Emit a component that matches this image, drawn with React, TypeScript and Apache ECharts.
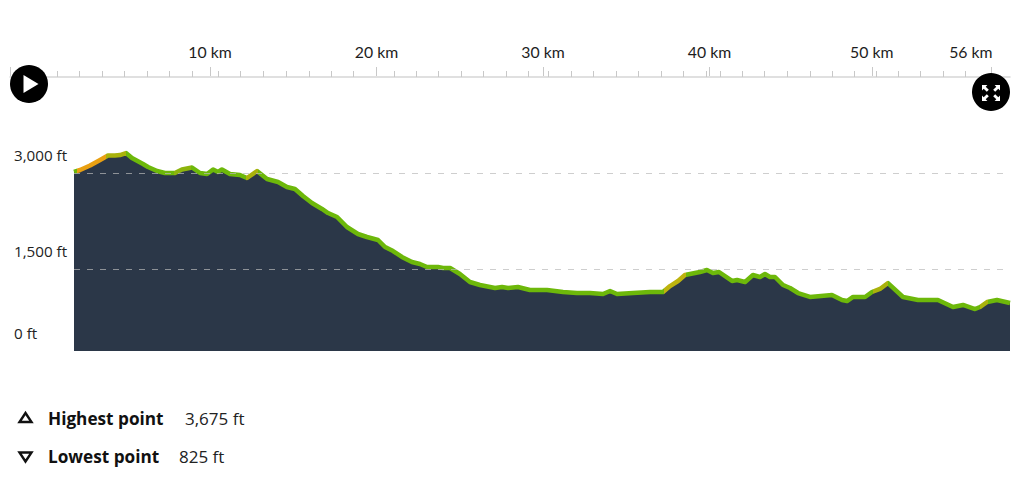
import React, { useEffect, useRef } from "react";
import * as echarts from "echarts";

const distanceKm = [0, 0.36, 0.96, 1.56, 2.03, 2.45, 2.75, 3.11, 3.47, 4.13, 4.43, 4.97, 5.44, 6.04, 6.46, 7.06, 7.54, 7.96, 8.32, 8.62, 8.85, 9.33, 9.93, 10.35, 10.95, 11.55, 12.21, 12.74, 13.22, 13.7, 14.24, 14.84, 15.2, 15.74, 16.33, 16.99, 17.53, 18.19, 18.61, 19.09, 19.62, 20.22, 20.7, 21.12, 21.78, 22.08, 22.5, 23.09, 23.69, 24.29, 25.19, 25.61, 25.97, 26.56, 27.28, 28.3, 29.26, 30.09, 30.87, 31.65, 32.07, 32.49, 33.44, 34.46, 35.24, 35.66, 36.14, 36.55, 37.45, 37.87, 38.23, 38.59, 39.37, 39.67, 40.15, 40.62, 41.04, 41.34, 41.64, 41.94, 42.42, 42.84, 43.32, 44.03, 45.35, 45.95, 46.25, 46.61, 47.33, 47.74, 48.22, 48.7, 49.6, 50.5, 51.69, 52.59, 53.19, 53.91, 54.21, 54.63, 55.22, 56];
const elevationFt = [3016, 3047, 3117, 3203, 3273, 3273, 3281, 3312, 3234, 3141, 3094, 3031, 3000, 3000, 3055, 3086, 3000, 2984, 3055, 3016, 3055, 2984, 2969, 2922, 3031, 2906, 2859, 2781, 2750, 2641, 2531, 2438, 2375, 2313, 2156, 2047, 2000, 1953, 1844, 1781, 1688, 1609, 1578, 1531, 1531, 1516, 1516, 1422, 1297, 1250, 1203, 1219, 1203, 1219, 1172, 1172, 1141, 1125, 1125, 1109, 1156, 1109, 1125, 1141, 1141, 1234, 1313, 1406, 1453, 1484, 1438, 1453, 1313, 1328, 1297, 1406, 1375, 1422, 1375, 1375, 1250, 1203, 1125, 1063, 1094, 1016, 1000, 1063, 1063, 1141, 1188, 1281, 1063, 1016, 1016, 906, 938, 875, 906, 984, 1016, 969];

const elevationTicks = [219, 1500, 3000];
const elevationTickLabels = ["0 ft", "1,500 ft", "3,000 ft"];
const gridLineFt = [1500, 3000];

const rulerMinorTicks = [0.81, 2.13, 3.51, 4.83, 6.22, 7.54, 8.92, 10.48, 11.8, 13.18, 14.56, 15.95, 17.27, 18.59, 21.05, 22.37, 23.69, 25.08, 26.4, 27.78, 29.1, 30.3, 31.68, 33, 34.38, 35.71, 37.09, 38.41, 39.79, 40.63, 41.95, 43.27, 44.65, 46.04, 47.36, 48.68, 50, 51.32, 52.64, 54.02, 55.35];
const rulerMajorTicks = [-2, 10, 20, 30, 40, 49.75, 56.9];
const rulerLabelAt = [10, 20, 30, 40, 49.75, 55.7];
const rulerLabels = ["10 km", "20 km", "30 km", "40 km", "50 km", "56 km"];

const statNames = ["Highest point", "Lowest point"];
const statValues = ["3,675 ft", "825 ft"];

const GREEN = "#6db80a";
const ORANGE = "#e9a012";
const OLIVE = "#a9b20c";
const colourBreaks = [0.2, 1.9, 3.1, 6, 7, 10.3, 11, 35.3, 36.6, 47.8, 48.7, 54.2, 54.7, 60];
const colourRuns = [GREEN, ORANGE, OLIVE, GREEN, "#8db40c", GREEN, OLIVE, GREEN, "#bdb30e", GREEN, OLIVE, GREEN, OLIVE, GREEN];

echarts.graphic.registerShape(
  "expandIcon",
  echarts.graphic.extendPath(
    "M0 0H5.4L3.7 1.7L6.8 4.8L4.8 6.8L1.7 3.7L0 5.4ZM18 0V5.4L16.3 3.7L13.2 6.8L11.2 4.8L14.3 1.7L12.6 0ZM0 16V10.6L1.7 12.3L4.8 9.2L6.8 11.2L3.7 14.3L5.4 16ZM18 16H12.6L14.3 14.3L11.2 11.2L13.2 9.2L16.3 12.3L18 10.6Z",
    {}
  )
);

const UI_FONT = "'Open Sans', sans-serif";

export default function App() {
  const ref = useRef<HTMLDivElement>(null);
  useEffect(() => {
    const chart = echarts.init(ref.current!, undefined, { renderer: "svg" });
    const tickLabel = (v: number) => elevationTickLabels[elevationTicks.indexOf(v)] ?? "";
    chart.setOption({
      animation: false,
      backgroundColor: "#ffffff",
      grid: [
        { left: 74, width: 936, top: 129.8, height: 221.2, show: false },
        { left: 10, width: 1000, top: 76, height: 1, show: false },
      ],
      xAxis: [
        { gridIndex: 0, type: "value", min: 0, max: 56, show: false },
        {
          gridIndex: 1, type: "value", position: "top", min: -2.01, max: 58.05,
          axisLine: { show: true, lineStyle: { color: "#d6d6d6", width: 1.5 } },
          axisTick: { show: true, customValues: rulerMinorTicks, length: 6, lineStyle: { color: "#c8c8c8", width: 1 } },
          axisLabel: { show: false },
          splitLine: { show: false },
        },
        {
          gridIndex: 1, type: "value", position: "top", min: -2.01, max: 58.05,
          axisLine: { show: false },
          axisTick: { show: true, customValues: rulerMajorTicks, length: 9, lineStyle: { color: "#c8c8c8", width: 1 } },
          axisLabel: {
            show: true, customValues: rulerLabelAt, margin: 17,
            fontFamily: "Lato, sans-serif", fontSize: 15.8, color: "#1d1d1d",
            formatter: (v: number) => rulerLabels[rulerLabelAt.indexOf(v)] ?? "",
          },
          splitLine: { show: false },
        },
      ],
      yAxis: [
        {
          gridIndex: 0, type: "value", min: 219, max: 3675,
          axisLine: { show: false }, axisTick: { show: false }, splitLine: { show: false },
          axisLabel: {
            customValues: elevationTicks, margin: 60, align: "left", verticalAlign: "bottom",
            padding: [0, 0, 11, 0], fontFamily: UI_FONT, fontSize: 15.2, color: "#222222",
            formatter: tickLabel,
          },
        },
        { gridIndex: 1, type: "value", show: false },
      ],
      visualMap: {
        show: false, type: "piecewise", dimension: 0, seriesIndex: 0,
        pieces: colourBreaks.map((b, i) => ({ gt: i === 0 ? -1 : colourBreaks[i - 1], lte: b, color: colourRuns[i] })),
      },
      series: [
        {
          type: "line", xAxisIndex: 0, yAxisIndex: 0, symbol: "none", smooth: false,
          data: distanceKm.map((d, i) => [d, elevationFt[i]]),
          lineStyle: { width: 4.5, join: "round" },
          areaStyle: { color: "#2b3748", opacity: 1, origin: "start" },
          markLine: {
            silent: true, symbol: "none", label: { show: false },
            lineStyle: { color: "rgba(185,185,185,0.7)", type: [6, 7], width: 1 },
            data: gridLineFt.map((v) => ({ yAxis: v })),
          },
        },
      ],
      graphic: [
        { type: "circle", z: 10, shape: { cx: 29, cy: 84, r: 19 }, style: { fill: "#000000" } },
        { type: "polygon", z: 11, shape: { points: [[23.5, 75], [38.5, 84], [23.5, 93]] }, style: { fill: "#ffffff" } },
        { type: "circle", z: 10, shape: { cx: 991, cy: 92, r: 19 }, style: { fill: "#000000" } },
        { type: "expandIcon", z: 11, x: 982, y: 85, style: { fill: "#ffffff" } },
        { type: "polygon", z: 10, shape: { points: [[25.5, 413], [31.5, 422], [19.5, 422]] }, style: { fill: "#ffffff", stroke: "#111111", lineWidth: 2.4 } },
        { type: "polygon", z: 10, shape: { points: [[19.5, 452.5], [31.5, 452.5], [25.5, 461.5]] }, style: { fill: "#ffffff", stroke: "#111111", lineWidth: 2.4 } },
        { type: "text", z: 10, x: 48, y: 418, style: { text: statNames[0], fontFamily: UI_FONT, fontWeight: "bold", fontSize: 17.2, fill: "#111111", verticalAlign: "middle" } },
        { type: "text", z: 10, x: 185, y: 418, style: { text: statValues[0], fontFamily: UI_FONT, fontSize: 17, fill: "#222222", verticalAlign: "middle" } },
        { type: "text", z: 10, x: 48, y: 456, style: { text: statNames[1], fontFamily: UI_FONT, fontWeight: "bold", fontSize: 17.2, fill: "#111111", verticalAlign: "middle" } },
        { type: "text", z: 10, x: 179, y: 456, style: { text: statValues[1], fontFamily: UI_FONT, fontSize: 17, fill: "#222222", verticalAlign: "middle" } },
      ],
    });
    return () => chart.dispose();
  }, []);
  return <div ref={ref} style={{ position: "absolute", left: 0, top: 0, width: 1024, height: 496 }} />;
}
